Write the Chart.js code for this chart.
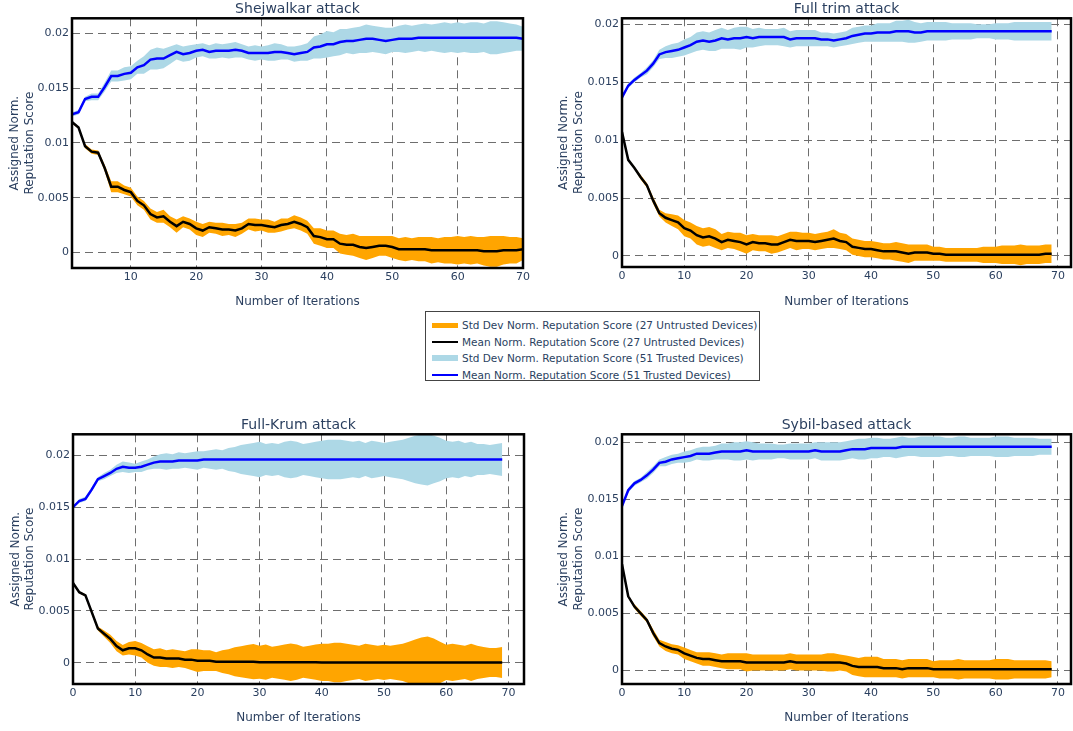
<!DOCTYPE html>
<html>
<head>
<meta charset="utf-8">
<script src="https://cdn.jsdelivr.net/npm/chart.js@4.4.1/dist/chart.umd.min.js"></script>
<style>
  html, body { margin: 0; padding: 0; background: #fff; }
  body { width: 1073px; height: 731px; position: relative; overflow: hidden; font-family: "DejaVu Sans", Verdana, sans-serif; }
  canvas { position: absolute; }
  #legend { position: absolute; left: 425px; top: 311px; width: 335px; height: 70px; border: 1px solid #444; box-sizing: border-box; background: #fff; }
  .row { position: absolute; left: 0; height: 16.5px; line-height: 16.5px; font-size: 10.5px; color: #2a3f5f; white-space: nowrap; }
  .sw { position: absolute; left: 6px; width: 26px; }
  .lt { position: absolute; left: 36px; top: 0; }
</style>
</head>
<body>
<canvas id="c1" width="540" height="310" style="left:0px;top:0px"></canvas>
<canvas id="c2" width="533" height="310" style="left:540px;top:0px"></canvas>
<canvas id="c3" width="540" height="321" style="left:0px;top:410px"></canvas>
<canvas id="c4" width="533" height="321" style="left:540px;top:410px"></canvas>
<div id="legend"></div>
<script>
// ---------------- DATA ----------------
const panelTitles = ["Shejwalkar attack", "Full trim attack", "Full-Krum attack", "Sybil-based attack"];
const xAxisTitle = "Number of Iterations";
const yAxisTitle = ["Assigned Norm.", "Reputation Score"];
const xTickValues = [0, 10, 20, 30, 40, 50, 60, 70];
const yTickValues = [0, 0.005, 0.01, 0.015, 0.02];
const yTickLabels = ["0", "0.005", "0.01", "0.015", "0.02"];
const legendLabels = [
  "Std Dev Norm. Reputation Score (27 Untrusted Devices)",
  "Mean Norm. Reputation Score (27 Untrusted Devices)",
  "Std Dev Norm. Reputation Score (51 Trusted Devices)",
  "Mean Norm. Reputation Score (51 Trusted Devices)"
];

// Iterations
const iters1 = [1,2,3,4,5,6,7,8,9,10,11,12,13,14,15,16,17,18,19,20,21,22,23,24,25,26,27,28,29,30,31,32,33,34,35,36,37,38,39,40,41,42,43,44,45,46,47,48,49,50,51,52,53,54,55,56,57,58,59,60,61,62,63,64,65,66,67,68,69,70];
const iters0 = [0,1,2,3,4,5,6,7,8,9,10,11,12,13,14,15,16,17,18,19,20,21,22,23,24,25,26,27,28,29,30,31,32,33,34,35,36,37,38,39,40,41,42,43,44,45,46,47,48,49,50,51,52,53,54,55,56,57,58,59,60,61,62,63,64,65,66,67,68,69];

// Panel 1: Shejwalkar attack
const meanUntrusted1 = [0.0119,0.0114,0.0097,0.0092,0.0091,0.0077,0.0060,0.0060,0.0057,0.0055,
  0.0047,0.0043,0.0035,0.0032,0.0033,0.0028,0.0024,0.0028,0.0026,0.0022,
  0.0020,0.0023,0.0022,0.0021,0.0021,0.0020,0.0022,0.0026,0.0025,0.0025,
  0.0024,0.0023,0.0025,0.0026,0.0028,0.0026,0.0023,0.0015,0.0014,0.0012,
  0.0012,0.0008,0.0007,0.0007,0.0005,0.0004,0.0005,0.0006,0.0006,0.0005,
  0.0003,0.0003,0.0003,0.0003,0.0003,0.0002,0.0002,0.0002,0.0002,0.0002,
  0.0002,0.0002,0.0002,0.0001,0.0001,0.0001,0.0002,0.0002,0.0002,0.0003];
const stdUntrusted1 = [0.0001,0.0001,0.0002,0.0002,0.0002,0.0003,0.0005,0.0005,0.0004,0.0004,
  0.0004,0.0004,0.0005,0.0005,0.0006,0.0005,0.0006,0.0005,0.0005,0.0006,
  0.0006,0.0005,0.0005,0.0006,0.0005,0.0006,0.0005,0.0005,0.0006,0.0005,
  0.0006,0.0005,0.0006,0.0005,0.0006,0.0006,0.0006,0.0007,0.0008,0.0008,
  0.0008,0.0009,0.0009,0.0010,0.0010,0.0011,0.0010,0.0009,0.0009,0.0010,
  0.0010,0.0011,0.0010,0.0011,0.0011,0.0012,0.0011,0.0012,0.0012,0.0013,
  0.0012,0.0013,0.0012,0.0013,0.0014,0.0014,0.0013,0.0012,0.0012,0.0010];
const meanTrusted1 = [0.0126,0.0128,0.0140,0.0142,0.0142,0.0151,0.0161,0.0161,0.0163,0.0164,
  0.0169,0.0171,0.0176,0.0177,0.0177,0.0180,0.0183,0.0181,0.0182,0.0184,
  0.0185,0.0183,0.0184,0.0184,0.0184,0.0185,0.0184,0.0182,0.0182,0.0182,
  0.0182,0.0183,0.0183,0.0182,0.0181,0.0182,0.0183,0.0187,0.0188,0.0190,
  0.0190,0.0192,0.0193,0.0193,0.0194,0.0195,0.0195,0.0194,0.0193,0.0194,
  0.0195,0.0195,0.0195,0.0196,0.0196,0.0196,0.0196,0.0196,0.0196,0.0196,
  0.0196,0.0196,0.0196,0.0196,0.0196,0.0196,0.0196,0.0196,0.0196,0.0195];
const stdTrusted1 = [0.0002,0.0002,0.0002,0.0003,0.0003,0.0004,0.0005,0.0005,0.0006,0.0006,
  0.0006,0.0008,0.0009,0.0010,0.0009,0.0008,0.0007,0.0007,0.0007,0.0006,
  0.0006,0.0006,0.0007,0.0006,0.0007,0.0007,0.0006,0.0006,0.0007,0.0006,
  0.0007,0.0008,0.0007,0.0006,0.0007,0.0007,0.0008,0.0010,0.0011,0.0012,
  0.0011,0.0012,0.0011,0.0012,0.0012,0.0013,0.0012,0.0012,0.0012,0.0011,
  0.0012,0.0013,0.0012,0.0012,0.0013,0.0012,0.0013,0.0014,0.0013,0.0014,
  0.0013,0.0014,0.0014,0.0013,0.0015,0.0015,0.0014,0.0013,0.0012,0.0011];

// Panel 2: Full trim attack
const meanUntrusted2 = [0.0107,0.0083,0.0076,0.0068,0.0061,0.0048,0.0037,0.0033,0.0031,0.0029,
  0.0024,0.0022,0.0018,0.0016,0.0017,0.0015,0.0012,0.0014,0.0013,0.0012,
  0.0010,0.0012,0.0011,0.0011,0.0010,0.0010,0.0012,0.0014,0.0013,0.0013,
  0.0013,0.0012,0.0013,0.0014,0.0015,0.0013,0.0012,0.0008,0.0007,0.0006,
  0.0006,0.0005,0.0004,0.0004,0.0004,0.0003,0.0002,0.0003,0.0003,0.0003,
  0.0002,0.0002,0.0001,0.0001,0.0001,0.0001,0.0001,0.0001,0.0001,0.0001,
  0.0001,0.0001,0.0001,0.0001,0.0001,0.0001,0.0001,0.0001,0.0002,0.0002];
const stdUntrusted2 = [0.0001,0.0001,0.0001,0.0002,0.0002,0.0003,0.0003,0.0004,0.0005,0.0006,
  0.0007,0.0007,0.0008,0.0008,0.0008,0.0008,0.0007,0.0007,0.0007,0.0008,
  0.0008,0.0007,0.0007,0.0007,0.0008,0.0007,0.0007,0.0007,0.0008,0.0007,
  0.0007,0.0007,0.0007,0.0007,0.0008,0.0007,0.0007,0.0007,0.0007,0.0007,
  0.0007,0.0007,0.0007,0.0007,0.0008,0.0008,0.0008,0.0007,0.0007,0.0007,
  0.0006,0.0006,0.0006,0.0006,0.0006,0.0006,0.0006,0.0006,0.0007,0.0007,
  0.0007,0.0008,0.0008,0.0008,0.0009,0.0008,0.0008,0.0008,0.0008,0.0008];
const meanTrusted2 = [0.0137,0.0147,0.0152,0.0156,0.0160,0.0166,0.0174,0.0176,0.0177,0.0178,
  0.0180,0.0182,0.0185,0.0186,0.0185,0.0186,0.0188,0.0187,0.0188,0.0188,
  0.0189,0.0188,0.0189,0.0189,0.0189,0.0189,0.0189,0.0187,0.0188,0.0188,
  0.0188,0.0188,0.0187,0.0187,0.0186,0.0187,0.0188,0.0190,0.0191,0.0192,
  0.0192,0.0193,0.0193,0.0193,0.0194,0.0194,0.0194,0.0193,0.0193,0.0194,
  0.0194,0.0194,0.0194,0.0194,0.0194,0.0194,0.0194,0.0194,0.0194,0.0194,
  0.0194,0.0194,0.0194,0.0194,0.0194,0.0194,0.0194,0.0194,0.0194,0.0194];
const stdTrusted2 = [0.0001,0.0002,0.0002,0.0002,0.0003,0.0003,0.0004,0.0005,0.0006,0.0006,
  0.0007,0.0007,0.0008,0.0008,0.0008,0.0009,0.0009,0.0008,0.0009,0.0010,
  0.0009,0.0008,0.0008,0.0007,0.0007,0.0007,0.0008,0.0007,0.0007,0.0007,
  0.0007,0.0007,0.0006,0.0006,0.0006,0.0006,0.0006,0.0007,0.0007,0.0007,
  0.0007,0.0008,0.0008,0.0008,0.0009,0.0009,0.0010,0.0009,0.0008,0.0008,
  0.0008,0.0008,0.0008,0.0007,0.0007,0.0007,0.0007,0.0006,0.0006,0.0006,
  0.0007,0.0007,0.0007,0.0008,0.0008,0.0008,0.0008,0.0008,0.0008,0.0008];

// Panel 3: Full-Krum attack
const meanUntrusted3 = [0.0077,0.0068,0.0065,0.0049,0.0033,0.0028,0.0023,0.0016,0.0012,0.0014,
  0.0014,0.0012,0.0008,0.0005,0.0005,0.0004,0.0004,0.0004,0.0003,0.0003,
  0.0002,0.0002,0.0002,0.0001,0.0001,0.0001,0.0001,0.0001,0.0001,0.0001,
  0.00005,0.00005,0.00005,0.00005,0.00005,0.00005,0.00005,0.00005,0.00005,0.00005,
  0.00003,0.00003,0.00003,0.00003,0.00003,0.00003,0.00003,0.00003,0.00003,0.00003,
  0.00003,0.00003,0.00003,0.00003,0.00003,0.00003,0.00003,0.00003,0.00003,0.00003,
  0.00003,0.00003,0.00003,0.00003,0.00003,0.00003,0.00003,0.00003,0.00003,0.00003];
const stdUntrusted3 = [0.0001,0.0001,0.0001,0.0002,0.0002,0.0003,0.0004,0.0005,0.0005,0.0006,
  0.0007,0.0007,0.0008,0.0008,0.0009,0.0008,0.0009,0.0008,0.0008,0.0010,
  0.0011,0.0010,0.0010,0.0009,0.0011,0.0012,0.0014,0.0015,0.0016,0.0017,
  0.0016,0.0017,0.0015,0.0016,0.0017,0.0018,0.0017,0.0015,0.0016,0.0017,
  0.0018,0.0018,0.0019,0.0019,0.0018,0.0017,0.0016,0.0018,0.0017,0.0016,
  0.0017,0.0016,0.0017,0.0018,0.0020,0.0022,0.0024,0.0025,0.0023,0.0020,
  0.0017,0.0018,0.0017,0.0016,0.0018,0.0016,0.0015,0.0014,0.0014,0.0015];
const meanTrusted3 = [0.0150,0.0156,0.0158,0.0167,0.0177,0.0180,0.0183,0.0187,0.0189,0.0188,
  0.0188,0.0189,0.0191,0.0193,0.0194,0.0194,0.0194,0.0195,0.0195,0.0195,
  0.0195,0.0196,0.0196,0.0196,0.0196,0.0196,0.0196,0.0196,0.0196,0.0196,
  0.0196,0.0196,0.0196,0.0196,0.0196,0.0196,0.0196,0.0196,0.0196,0.0196,
  0.0196,0.0196,0.0196,0.0196,0.0196,0.0196,0.0196,0.0196,0.0196,0.0196,
  0.0196,0.0196,0.0196,0.0196,0.0196,0.0196,0.0196,0.0196,0.0196,0.0196,
  0.0196,0.0196,0.0196,0.0196,0.0196,0.0196,0.0196,0.0196,0.0196,0.0196];
const stdTrusted3 = [0.0001,0.0002,0.0002,0.0002,0.0002,0.0003,0.0003,0.0004,0.0005,0.0005,
  0.0004,0.0005,0.0005,0.0006,0.0007,0.0008,0.0007,0.0008,0.0007,0.0008,
  0.0009,0.0008,0.0009,0.0010,0.0009,0.0011,0.0012,0.0014,0.0015,0.0016,
  0.0017,0.0015,0.0016,0.0015,0.0017,0.0018,0.0017,0.0015,0.0016,0.0017,
  0.0018,0.0019,0.0019,0.0019,0.0018,0.0017,0.0018,0.0016,0.0018,0.0017,
  0.0016,0.0017,0.0018,0.0019,0.0021,0.0023,0.0024,0.0025,0.0023,0.0021,
  0.0018,0.0017,0.0018,0.0016,0.0017,0.0015,0.0015,0.0014,0.0015,0.0016];

// Panel 4: Sybil-based attack
const meanUntrusted4 = [0.0093,0.0065,0.0056,0.0050,0.0044,0.0033,0.0024,0.0021,0.0019,0.0018,
  0.0015,0.0013,0.0011,0.0010,0.0010,0.0009,0.0008,0.0008,0.0008,0.0008,
  0.0007,0.0007,0.0007,0.0007,0.0007,0.0007,0.0007,0.0008,0.0007,0.0007,
  0.0007,0.0007,0.0007,0.0007,0.0007,0.0007,0.0006,0.0004,0.0003,0.0003,
  0.0003,0.0003,0.0002,0.0002,0.0002,0.0001,0.0002,0.0002,0.0002,0.0002,
  0.0001,0.0001,0.0001,0.0001,0.0001,0.0001,0.0001,0.0001,0.0001,0.0001,
  0.0001,0.0001,0.0001,0.0001,0.0001,0.0001,0.0001,0.0001,0.0001,0.0001];
const stdUntrusted4 = [0.0001,0.0001,0.0002,0.0002,0.0002,0.0003,0.0003,0.0004,0.0004,0.0004,
  0.0005,0.0005,0.0005,0.0006,0.0006,0.0006,0.0006,0.0007,0.0007,0.0007,
  0.0008,0.0007,0.0007,0.0007,0.0007,0.0007,0.0007,0.0007,0.0007,0.0007,
  0.0007,0.0007,0.0007,0.0008,0.0008,0.0007,0.0007,0.0008,0.0008,0.0009,
  0.0009,0.0009,0.0008,0.0008,0.0008,0.0008,0.0008,0.0008,0.0008,0.0008,
  0.0007,0.0008,0.0008,0.0008,0.0009,0.0008,0.0008,0.0008,0.0008,0.0008,
  0.0009,0.0009,0.0009,0.0008,0.0008,0.0008,0.0008,0.0008,0.0008,0.0007];
const meanTrusted4 = [0.0144,0.0158,0.0164,0.0167,0.0171,0.0176,0.0182,0.0183,0.0185,0.0186,
  0.0187,0.0188,0.0190,0.0190,0.0190,0.0191,0.0192,0.0192,0.0192,0.0192,
  0.0193,0.0192,0.0192,0.0192,0.0192,0.0192,0.0192,0.0192,0.0192,0.0192,
  0.0192,0.0193,0.0192,0.0192,0.0192,0.0192,0.0193,0.0194,0.0194,0.0194,
  0.0195,0.0195,0.0195,0.0195,0.0195,0.0196,0.0196,0.0196,0.0196,0.0196,
  0.0196,0.0196,0.0196,0.0196,0.0196,0.0196,0.0196,0.0196,0.0196,0.0196,
  0.0196,0.0196,0.0196,0.0196,0.0196,0.0196,0.0196,0.0196,0.0196,0.0196];
const stdTrusted4 = [0.0001,0.0002,0.0002,0.0002,0.0003,0.0003,0.0003,0.0004,0.0004,0.0004,
  0.0005,0.0005,0.0005,0.0006,0.0006,0.0006,0.0007,0.0007,0.0008,0.0008,
  0.0008,0.0008,0.0007,0.0007,0.0007,0.0006,0.0006,0.0007,0.0007,0.0007,
  0.0007,0.0007,0.0008,0.0008,0.0008,0.0008,0.0008,0.0008,0.0009,0.0009,
  0.0009,0.0009,0.0008,0.0008,0.0009,0.0009,0.0008,0.0008,0.0009,0.0009,
  0.0009,0.0009,0.0008,0.0008,0.0009,0.0009,0.0008,0.0008,0.0008,0.0008,
  0.0009,0.0009,0.0009,0.0008,0.0008,0.0008,0.0008,0.0007,0.0007,0.0007];

// ---------------- STYLE ----------------
const FONT = "'DejaVu Sans', Verdana, sans-serif";
const TEXT = "#2a3f5f";
const C_ORANGE = "#FFA500", C_LIGHTBLUE = "#ADD8E6", C_BLACK = "#000000", C_BLUE = "#0000FF";
Chart.defaults.font.family = FONT;
Chart.defaults.color = TEXT;

const framePlugin = {
  id: 'frame',
  afterDraw(chart) {
    const { ctx, chartArea: a } = chart;
    ctx.save();
    ctx.strokeStyle = '#000';
    ctx.lineWidth = 2.5;
    ctx.strokeRect(a.left, a.top, a.right - a.left, a.bottom - a.top);
    ctx.restore();
  }
};

function pts(xs, ys) { return xs.map((x, i) => ({ x: x, y: ys[i] })); }
function shift(xs, m, s, sign) { return xs.map((x, i) => ({ x: x, y: m[i] + sign * s[i] })); }

function makePanel(id, title, xs, mU, sU, mT, sT, g) {
  const datasets = [
    { data: pts(xs, mT), borderColor: C_BLUE, borderWidth: 2.5, fill: false },
    { data: pts(xs, mU), borderColor: C_BLACK, borderWidth: 2.5, fill: false },
    { data: shift(xs, mT, sT, 1), borderColor: 'rgba(0,0,0,0)', borderWidth: 1, backgroundColor: C_LIGHTBLUE, fill: '+1' },
    { data: shift(xs, mT, sT, -1), borderColor: 'rgba(0,0,0,0)', borderWidth: 1, fill: false },
    { data: shift(xs, mU, sU, 1), borderColor: 'rgba(0,0,0,0)', borderWidth: 1, backgroundColor: C_ORANGE, fill: '+1' },
    { data: shift(xs, mU, sU, -1), borderColor: 'rgba(0,0,0,0)', borderWidth: 1, fill: false }
  ];
  datasets.forEach(d => { d.pointRadius = 0; d.tension = 0; d.pointHoverRadius = 0; });
  return new Chart(document.getElementById(id), {
    type: 'line',
    data: { datasets },
    plugins: [framePlugin],
    options: {
      responsive: false,
      animation: false,
      devicePixelRatio: 1,
      events: [],
      layout: { padding: { left: 0, right: g.padRight, top: 0, bottom: 0 } },
      plugins: {
        legend: { display: false },
        tooltip: { enabled: false },
        title: {
          display: true, text: title, fullSize: false, color: TEXT,
          font: { family: FONT, size: 14, weight: 'normal', lineHeight: 1.2 },
          padding: { top: g.titleTop, bottom: g.titleBottom }
        }
      },
      scales: {
        x: {
          type: 'linear', min: g.xMin, max: g.xMax,
          afterBuildTicks: s => { s.ticks = xTickValues.filter(v => v >= s.min && v <= s.max).map(v => ({ value: v })); },
          ticks: { autoSkip: false, maxRotation: 0, padding: 3, color: TEXT, font: { family: FONT, size: 11 }, callback: v => String(v) },
          grid: { color: '#6e6e6e', lineWidth: 1, drawTicks: false },
          border: { display: false, dash: [8, 5] },
          title: { display: true, text: xAxisTitle, color: TEXT, font: { family: FONT, size: 12, lineHeight: 1.2 }, padding: { top: 0, bottom: g.xTitleBottom } },
          afterFit: s => { s.height = g.xH; s.paddingLeft = 0; s.paddingRight = 0; }
        },
        y: {
          type: 'linear', min: g.yMin, max: g.yMax,
          afterBuildTicks: s => { s.ticks = yTickValues.map(v => ({ value: v })); },
          ticks: { autoSkip: false, padding: 3, color: TEXT, font: { family: FONT, size: 11 }, callback: (v, i) => yTickLabels[i] },
          grid: { color: '#6e6e6e', lineWidth: 1, drawTicks: false },
          border: { display: false, dash: [8, 5] },
          title: { display: true, text: yAxisTitle, color: TEXT, font: { family: FONT, size: 12, lineHeight: 1.2 }, padding: { top: g.yTitleTop, bottom: 0 } },
          afterFit: s => { s.width = g.yW; s.paddingTop = 0; s.paddingBottom = 0; }
        }
      }
    }
  });
}

makePanel('c1', panelTitles[0], iters1, meanUntrusted1, stdUntrusted1, meanTrusted1, stdTrusted1,
  { padRight: 17, yW: 72, xH: 42, titleTop: 0.6, titleBottom: 0.9, xTitleBottom: 0.8, yTitleTop: 7.8,
    xMin: 1, xMax: 70, yMin: -0.00142, yMax: 0.02137 });
makePanel('c2', panelTitles[1], iters0, meanUntrusted2, stdUntrusted2, meanTrusted2, stdTrusted2,
  { padRight: 2, yW: 82, xH: 43, titleTop: 0.6, titleBottom: 0.9, xTitleBottom: 0.8, yTitleTop: 16.8,
    xMin: 0, xMax: 72.1, yMin: -0.00095, yMax: 0.02052 });
makePanel('c3', panelTitles[2], iters0, meanUntrusted3, stdUntrusted3, meanTrusted3, stdTrusted3,
  { padRight: 16, yW: 73, xH: 47, titleTop: 6.6, titleBottom: 0.9, xTitleBottom: 5.8, yTitleTop: 8.3,
    xMin: 0, xMax: 72.5, yMin: -0.00205, yMax: 0.02203 });
makePanel('c4', panelTitles[3], iters0, meanUntrusted4, stdUntrusted4, meanTrusted4, stdTrusted4,
  { padRight: 2, yW: 82, xH: 47, titleTop: 6.6, titleBottom: 0.9, xTitleBottom: 5.8, yTitleTop: 16.8,
    xMin: 0, xMax: 72.1, yMin: -0.00119, yMax: 0.0207 });

// ---------------- LEGEND ----------------
const legendSwatches = [
  { color: C_ORANGE, h: 5 },
  { color: C_BLACK, h: 2 },
  { color: C_LIGHTBLUE, h: 6 },
  { color: C_BLUE, h: 2 }
];
const legend = document.getElementById('legend');
legendLabels.forEach((label, i) => {
  const row = document.createElement('div');
  row.className = 'row';
  row.style.top = (5 + i * 16.5) + 'px';
  row.style.width = '330px';
  const sw = document.createElement('div');
  sw.className = 'sw';
  sw.style.background = legendSwatches[i].color;
  sw.style.height = legendSwatches[i].h + 'px';
  sw.style.top = (8.25 - legendSwatches[i].h / 2) + 'px';
  const t = document.createElement('span');
  t.className = 'lt';
  t.textContent = label;
  row.appendChild(sw);
  row.appendChild(t);
  legend.appendChild(row);
});
</script>
</body>
</html>
